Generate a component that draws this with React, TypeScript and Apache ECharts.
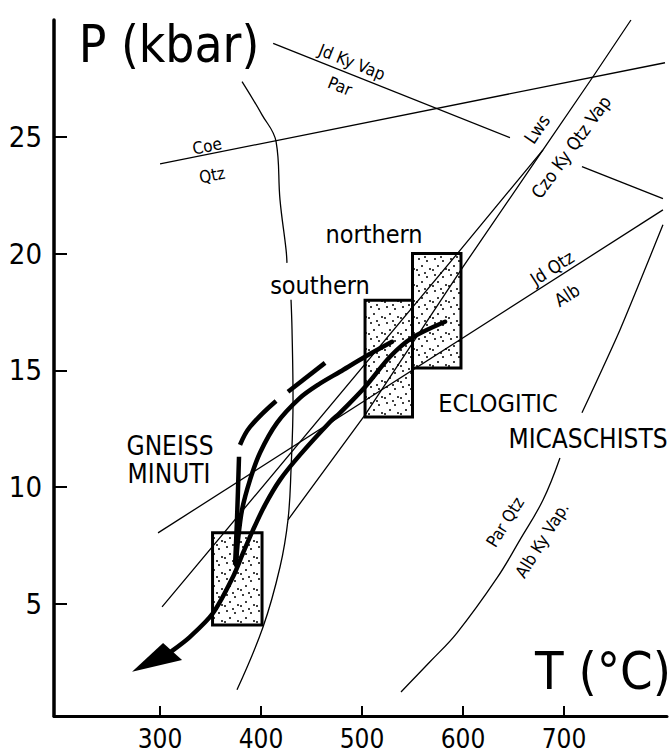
import React, { useEffect, useRef } from "react";
import * as echarts from "echarts";

// ---- axis ticks ----
const xTicks = [300, 400, 500, 600, 700];
const yTicks = [5, 10, 15, 20, 25];

// ---- reaction curves (T °C, P kbar) ----
const coeQtz = [[300, 23.84], [800, 28.17]];
const parJdKy1 = [[412, 29.0], [646.5, 24.96]];
const parJdKy2 = [[717.8, 23.72], [798, 22.35]];
const jdQtzAlb = [[298, 8.04], [798, 21.87]];
const lwsA = [[302, 4.87], [595, 20.03], [679.2, 24.44], [728.7, 27.57], [766.3, 30.0]];
const lwsB = [[679.2, 24.44], [600, 19.43], [503, 13.09], [426.7, 8.6]];
const curveUpper = [[381.2, 27.36], [401, 25.94], [414.9, 24.79], [418.8, 22.3], [424.8, 20.16], [425.7, 19.6]];
const curveLower = [[429.7, 18.02], [430.7, 16.73], [431.7, 13.74], [429.7, 10.74], [426.7, 8.6], [418.8, 6.58], [402, 4.01], [376.2, 1.32]];
const parQtzLower = [[538.6, 1.23], [567.3, 2.52], [594.1, 3.76], [633.7, 6.11], [656.4, 7.74], [679.2, 9.45], [696, 11.25]];
const parQtzUpper = [[717.8, 13.18], [755.4, 16.73], [798, 21.23]];

// ---- P-T paths ----
const pathMain = [[582.2, 17.08], [549.5, 16.39], [527.7, 15.58], [503, 14.29], [478.2, 13.18], [468.3, 12.79], [438.6, 11.38], [418.8, 10.31], [404, 9.24], [392.1, 8.17], [382.2, 7.18], [372.3, 6.16], [352.5, 4.61], [329.7, 3.59], [311.9, 2.99]];
const pathSouth = [[529.7, 16.22], [503, 15.58], [478.2, 14.94], [456.4, 14.38], [438.6, 13.82], [415.8, 12.75], [399, 11.47], [389.1, 10.31], [381.2, 9.03], [377.2, 7.74], [375.2, 6.67]];
const dash1 = [[463.4, 15.32], [426.7, 14.08]];
const dash2 = [[414.9, 13.69], [389.1, 12.58], [379.2, 11.81]];
const dash3 = [[378.2, 11.3], [376.2, 8.6], [374.3, 6.67]];
const arrowHead = [[272.3, 2.09], [303, 3.33], [321.8, 2.6]];

// ---- boxes: Tmin, Tmax, Pmin, Pmax ----
const boxes = [
  [352, 401, 4.1, 8.05],
  [503, 550, 13.0, 18.0],
  [550, 598, 15.1, 20.0],
];

const FONT = "'DejaVu Sans Condensed', 'DejaVu Sans', sans-serif";

// annotation layout (pixel centre, rotation deg, size)
const annotations: [string, number, number, number, number][] = [
  ["P (kbar)", 169, 44, 0, 51],
  ["T (°C)", 603, 671, 0, 52],
  ["Jd Ky Vap", 352, 62, -21.6, 17],
  ["Par", 340, 86, -21.6, 17],
  ["Coe", 207, 146, 11.3, 17],
  ["Qtz", 212, 175, 11.3, 17],
  ["Lws", 537, 129, 56, 18],
  ["Czo Ky Qtz Vap", 571, 147, 54, 18],
  ["northern", 374, 234, 0, 25],
  ["southern", 320, 285, 0, 25],
  ["Jd Qtz", 552, 268, 32.6, 18],
  ["Alb", 567, 295, 32.6, 18],
  ["ECLOGITIC", 498, 403, 0, 25],
  ["MICASCHISTS", 588, 439, 0, 26],
  ["GNEISS", 170, 446, 0, 26],
  ["MINUTI", 169, 474, 0, 26],
  ["Par Qtz", 505, 522, 58, 17],
  ["Alb Ky Vap.", 542, 540, 58, 17],
];

export default function App() {
  const ref = useRef<HTMLDivElement>(null);
  useEffect(() => {
    document.body.style.margin = "0";
    const el = ref.current!;
    const chart = echarts.init(el, null, { renderer: "svg" });

    const tile = document.createElement("canvas");
    tile.width = 16;
    tile.height = 16;
    const ctx = tile.getContext("2d")!;
    ctx.fillStyle = "#fff";
    ctx.fillRect(0, 0, 16, 16);
    ctx.fillStyle = "#000";
    [[3, 3], [11, 5], [6, 10], [14, 13], [1, 14], [9, 1]].forEach(([x, y]) => {
      ctx.beginPath();
      ctx.arc(x, y, 1.0, 0, Math.PI * 2);
      ctx.fill();
    });
    const pattern: any = { image: tile, repeat: "repeat" };

    const thin = (data: number[][], smooth: number | boolean = false) => ({
      type: "line",
      data,
      symbol: "none",
      smooth,
      silent: true,
      z: 3,
      lineStyle: { color: "#000", width: 1.3 },
    });
    const thick = (data: number[][], smooth: number | boolean = 0.3, cap = "round") => ({
      type: "line",
      data,
      symbol: "none",
      smooth,
      silent: true,
      z: 4,
      lineStyle: { color: "#000", width: 4.5, cap },
    });

    chart.setOption({
      animation: false,
      grid: { left: 54, right: 4, top: 20, bottom: 39 },
      xAxis: {
        type: "value",
        min: 195,
        max: 802,
        splitLine: { show: false },
        axisLine: { show: true, lineStyle: { color: "#000", width: 3 } },
        axisTick: { show: true, inside: true, length: 10, customValues: xTicks, lineStyle: { color: "#000", width: 2 } },
        axisLabel: { customValues: xTicks, color: "#000", fontSize: 26, fontFamily: FONT, margin: 10 },
      },
      yAxis: {
        type: "value",
        min: 0.2,
        max: 30,
        splitLine: { show: false },
        axisLine: { show: true, lineStyle: { color: "#000", width: 3.5 } },
        axisTick: { show: true, inside: true, length: 13, customValues: yTicks, lineStyle: { color: "#000", width: 2 } },
        axisLabel: { customValues: yTicks, color: "#000", fontSize: 29, fontFamily: FONT, margin: 12 },
      },
      series: [
        {
          type: "custom",
          data: boxes,
          encode: { x: [0, 1], y: [2, 3] },
          z: 2,
          silent: true,
          renderItem: (params: any, api: any) => {
            const a = api.coord([api.value(0), api.value(3)]);
            const b = api.coord([api.value(1), api.value(2)]);
            return {
              type: "rect",
              shape: { x: a[0], y: a[1], width: b[0] - a[0], height: b[1] - a[1] },
              style: { fill: pattern, stroke: "#000", lineWidth: 3 },
            };
          },
        },
        thin(coeQtz),
        thin(parJdKy1),
        thin(parJdKy2),
        thin(jdQtzAlb),
        thin(lwsA),
        thin(lwsB),
        thin(curveUpper, 0.4),
        thin(curveLower, 0.4),
        thin(parQtzLower, 0.4),
        thin(parQtzUpper, 0.2),
        thick(pathMain, 0.3),
        thick(pathSouth, 0.3),
        thick(dash1, false, "butt"),
        thick(dash2, 0.4, "butt"),
        thick(dash3, 0.3, "butt"),
        {
          type: "custom",
          data: arrowHead,
          encode: { x: 0, y: 1 },
          z: 5,
          silent: true,
          renderItem: (params: any, api: any) => {
            if (params.dataIndex !== 0) return null;
            const pts = arrowHead.map((p) => api.coord(p));
            return { type: "polygon", shape: { points: pts }, style: { fill: "#000" } };
          },
        },
      ],
      graphic: annotations.map(([text, x, y, rot, size]) => ({
        type: "text",
        x,
        y,
        rotation: (rot * Math.PI) / 180,
        silent: true,
        z: 10,
        style: {
          text,
          fill: "#000",
          font: `${size}px ${FONT}`,
          align: "center",
          verticalAlign: "middle",
        },
      })),
    });
    return () => chart.dispose();
  }, []);
  return <div ref={ref} style={{ position: "absolute", left: 0, top: 0, width: 671, height: 755 }} />;
}
